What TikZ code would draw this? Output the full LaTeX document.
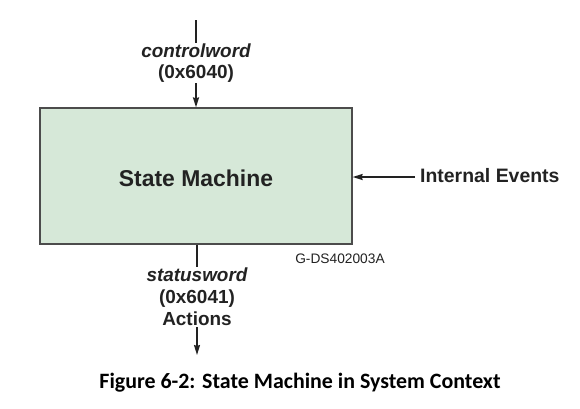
\documentclass[tikz,border=0pt]{standalone}
\usepackage{fontspec}
\setmainfont{Liberation Sans}
\newfontfamily\capfont{Carlito}
\usetikzlibrary{arrows.meta}
\definecolor{boxfill}{HTML}{D6E8D8}
\definecolor{txt}{HTML}{222222}
\begin{document}
\begin{tikzpicture}[x=1bp,y=-1bp,
  conn/.style={draw=txt,line width=1.6bp,-{Stealth[length=10bp,width=6bp,inset=1bp]}},
  lbl/.style={fill=white,text=txt,align=center,inner sep=1bp},
  smbox/.style={draw=black!70,line width=1.2bp,fill=boxfill,minimum width=312bp,minimum height=136bp,inner sep=0pt}]
\useasboundingbox (0,0) rectangle (580,408);
\node[smbox] (sm) at (196,176) {};
\node[text=txt,font=\fontsize{23}{26}\selectfont\bfseries] (smt) at (196,178) {State Machine};
\coordinate (topin) at (196,20);
\coordinate (botout) at (197,355);
\coordinate (rin) at (415,177);
\draw[conn] (topin) -- (sm.north -| topin);
\draw[conn] (sm.south -| botout) -- (botout);
\draw[conn] (rin) -- (sm.east |- rin);
\node[lbl,font=\fontsize{19}{20.5}\selectfont\bfseries] (cw) at (196,63) {\itshape controlword\\(0x6040)};
\node[lbl,font=\fontsize{19}{22}\selectfont\bfseries] (sw) at (197,297) {\itshape statusword\\(0x6041)\\Actions};
\node[text=txt,font=\fontsize{19.5}{22}\selectfont\bfseries,anchor=west,inner sep=0pt] (ie) at (420,176) {Internal Events};
\node[text=txt,font=\fontsize{13.8}{16}\selectfont,inner sep=0pt] (gid) at (340,259) {G-DS402003A};
\node[text=black,font=\capfont\fontsize{22}{26}\selectfont\bfseries,inner sep=0pt] (cap) at (300,383) {Figure 6-2: State Machine in System Context};
\end{tikzpicture}
\end{document}
